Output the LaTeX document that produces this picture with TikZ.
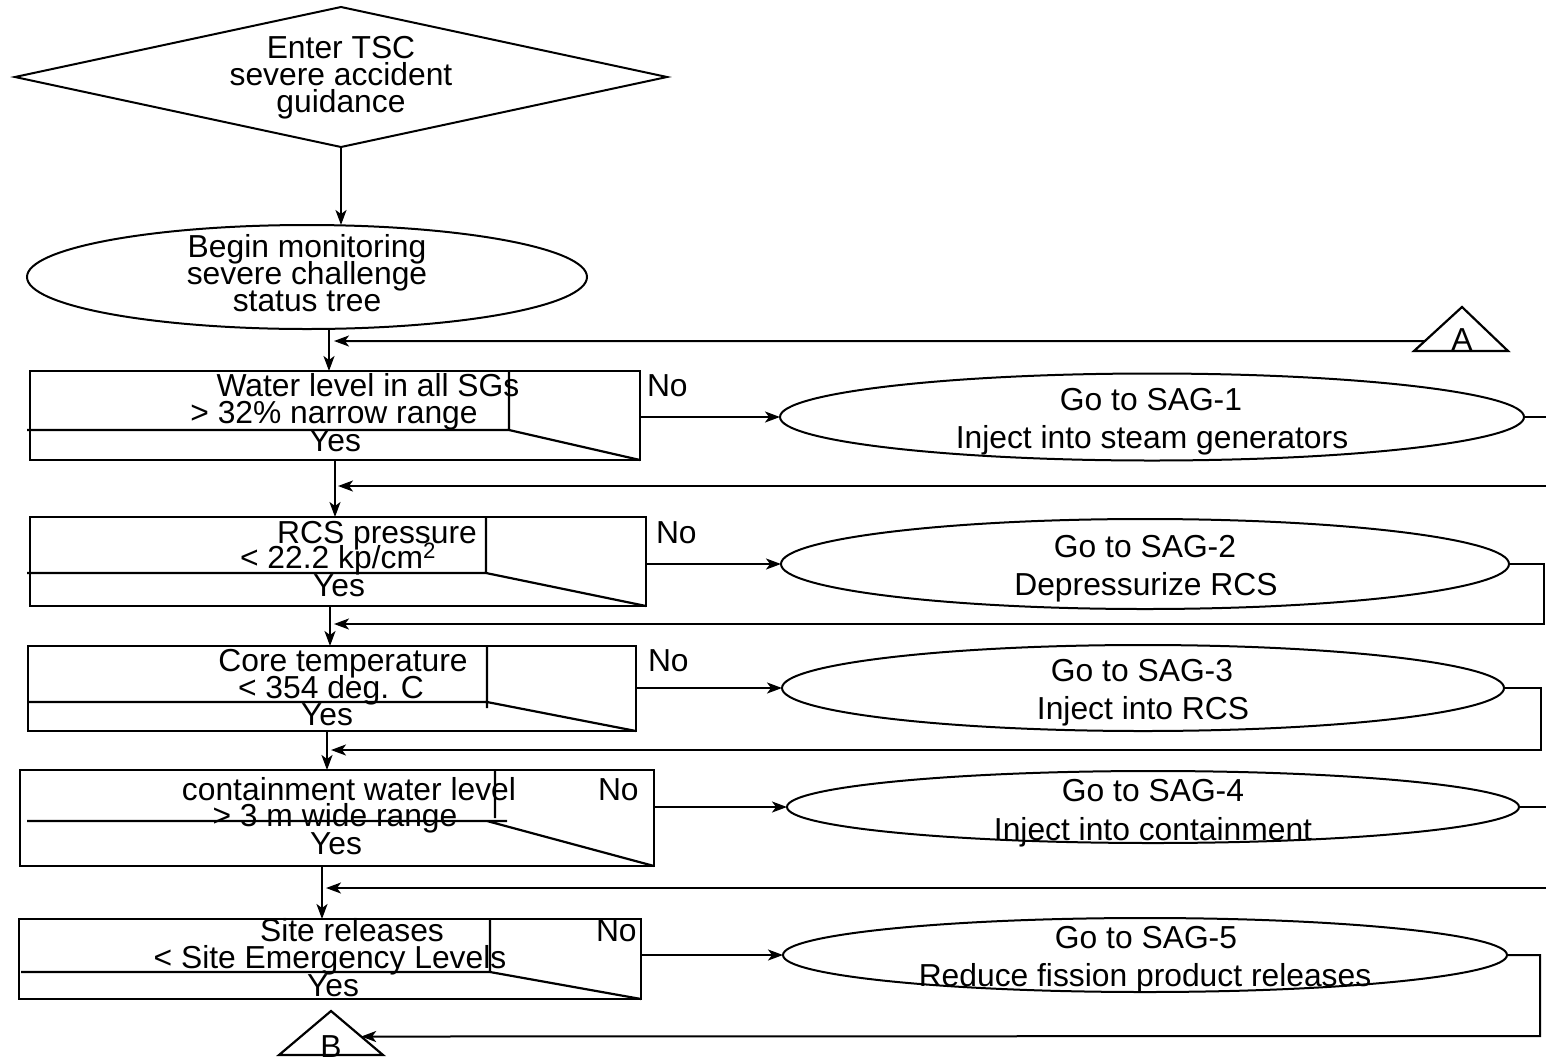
\documentclass[tikz,border=0pt]{standalone}
\usepackage{fontspec}
\setmainfont{Liberation Sans}
\usetikzlibrary{shapes.geometric,arrows.meta,calc}
% fixed line pitch even when descenders meet ascenders
\newcommand{\chartfont}{\fontsize{31.8}{27}\selectfont\lineskiplimit=-100pt\relax\lineskip=0pt\relax}
\begin{document}
\begin{tikzpicture}[x=1pt,y=-1pt,
  line width=2.2pt, line join=miter,
  every node/.style={inner sep=0pt, outer sep=0pt},
  txt/.style={font=\chartfont, align=center},
  lbl/.style={font=\chartfont, anchor=base},
  nolbl/.style={lbl, anchor=base west},
  decbox/.style={draw, rectangle, line width=2.2pt},
  oval/.style={draw, ellipse, line width=2pt},
  arr/.style={-{Stealth[length=15pt,width=11pt,inset=4pt]}, line width=2pt},
  wire/.style={line width=2.2pt}
]
\useasboundingbox (0,0) rectangle (1546,1058);
\fill[white] (0,0) rectangle (1546,1058);
\clip (0,0) rectangle (1546,1058);

% entry diamond and monitoring oval
\node[draw, diamond, minimum width=652pt, minimum height=140pt, line width=2pt] (start) at (341,77) {};
\node[txt] (startt) at (341,78) {Enter TSC\\severe accident\\guidance};
\node[oval, minimum width=560pt, minimum height=104pt] (mon) at (307,277) {};
\node[txt] (mont) at (307,273) {Begin monitoring\\severe challenge\\status tree};
\draw[arr] (start.south) -- (start.south |- mon.north);

% x positions of the main spine
\coordinate (sp1) at (329,0);
\coordinate (sp2) at (335,0);
\coordinate (sp3) at (330,0);
\coordinate (sp4) at (327,0);
\coordinate (sp5) at (322,0);

% decision 1
\node[decbox, minimum width=610pt, minimum height=89pt] (d1) at (335,415.5) {};
\draw (27,430) -- (509,430) -- (640,460) (509,371) -- (509,430);
\node[lbl] (d1a) at (368,396) {Water level in all SGs};
\node[lbl] (d1b) at (334,423) {> 32\% narrow range};
\node[lbl] (d1y) at (335,451) {Yes};
\node[nolbl] (d1n) at (647,396) {No};

% decision 2
\node[decbox, minimum width=616pt, minimum height=89pt] (d2) at (338,561.5) {};
\draw (27,573) -- (486,573) -- (646,606) (486,517) -- (486,573);
\node[lbl] (d2a) at (377,543) {RCS pressure};
\node[lbl] (d2b) at (338,568) {< 22.2 kp/cm\textsuperscript{2}};
\node[lbl] (d2y) at (339,596) {Yes};
\node[nolbl] (d2n) at (656,543) {No};

% decision 3
\node[decbox, minimum width=608pt, minimum height=85pt] (d3) at (332,688.5) {};
\draw (28,702) -- (487,702) -- (636,731) (487,646) -- (487,708);
\node[lbl] (d3a) at (343,671) {Core temperature};
\node[lbl] (d3b) at (331,698) {< 354 deg. C};
\node[lbl] (d3y) at (327,725) {Yes};
\node[nolbl] (d3n) at (648,671) {No};

% decision 4
\node[decbox, minimum width=634pt, minimum height=96pt] (d4) at (337,818) {};
\draw (27,821) -- (507,821) (487,821) -- (654,866) (495,770) -- (495,818);
\node[lbl] (d4a) at (349,800) {containment water level};
\node[lbl] (d4b) at (335,826) {> 3 m wide range};
\node[lbl] (d4y) at (336,854) {Yes};
\node[nolbl] (d4n) at (598,800) {No};

% decision 5
\node[decbox, minimum width=622pt, minimum height=80pt] (d5) at (330,959) {};
\draw (21,972) -- (490,972) -- (641,999) (490,919) -- (490,972);
\node[lbl] (d5a) at (352,941) {Site releases};
\node[lbl] (d5b) at (330,968) {< Site Emergency Levels};
\node[lbl] (d5y) at (333,996) {Yes};
\node[nolbl] (d5n) at (596,941) {No};

% guideline ovals
\node[oval, minimum width=744pt, minimum height=87pt] (g1) at (1152,417) {};
\node[lbl] (g1a) at (1151,410) {Go to SAG-1};
\node[lbl] (g1b) at (1152,448) {Inject into steam generators};
\node[oval, minimum width=728pt, minimum height=90pt] (g2) at (1145,564) {};
\node[lbl] (g2a) at (1145,557) {Go to SAG-2};
\node[lbl] (g2b) at (1146,595) {Depressurize RCS};
\node[oval, minimum width=722pt, minimum height=86pt] (g3) at (1143,688) {};
\node[lbl] (g3a) at (1142,681) {Go to SAG-3};
\node[lbl] (g3b) at (1143,719) {Inject into RCS};
\node[oval, minimum width=732pt, minimum height=72pt] (g4) at (1153,807) {};
\node[lbl] (g4a) at (1153,801) {Go to SAG-4};
\node[lbl] (g4b) at (1153,840) {Inject into containment};
\node[oval, minimum width=724pt, minimum height=74pt] (g5) at (1145,955) {};
\node[lbl] (g5a) at (1146,948) {Go to SAG-5};
\node[lbl] (g5b) at (1145,986) {Reduce fission product releases};

% connector triangles
\coordinate (At) at (1462,307);
\coordinate (Al) at (1414,351);
\coordinate (Ar) at (1508,351);
\draw (At) -- (Al) -- (Ar) -- cycle;
\node[lbl] (Alab) at (1462,350) {A};
\coordinate (Ain) at ($(At)!0.773!(Al)$);

\coordinate (Bt) at (331,1011);
\coordinate (Bl) at (279,1055);
\coordinate (Br) at (383,1055);
\draw (Bt) -- (Bl) -- (Br) -- cycle;
\node[lbl] (Blab) at (331,1057) {B};
\coordinate (Bin) at ($(Bt)!0.58!(Br)$);

% spine
\draw[arr] (mon.south -| sp1) -- (d1.north -| sp1);
\draw[arr] (d1.south -| sp2) -- (d2.north -| sp2);
\draw[arr] (d2.south -| sp3) -- (d3.north -| sp3);
\draw[arr] (d3.south -| sp4) -- (d4.north -| sp4);
\draw[arr] (d4.south -| sp5) -- (d5.north -| sp5);

% "No" branches
\draw[arr] (d1.east |- g1.west) -- (g1.west);
\draw[arr] (d2.east |- g2.west) -- (g2.west);
\draw[arr] (d3.east |- g3.west) -- (g3.west);
\draw[arr] (d4.east |- g4.west) -- (g4.west);
\draw[arr] (d5.east |- g5.west) -- (g5.west);

% returns to the spine
\coordinate (j1) at (334,341);
\coordinate (j2) at (338,486);
\coordinate (j3) at (334,624);
\coordinate (j4) at (331,750);
\coordinate (j5) at (326,888);
\coordinate (k1) at (1552,486);
\coordinate (k2) at (1544,624);
\coordinate (k3) at (1541,750);
\coordinate (k4) at (1552,888);
\coordinate (k5) at (1540,1036);
\draw[arr] (Ain) -- (j1);
\draw[arr] (g1.east) -| (k1) -- (j2);
\draw[arr] (g2.east) -| (k2) -- (j3);
\draw[arr] (g3.east) -| (k3) -- (j4);
\draw[arr] (g4.east) -| (k4) -- (j5);
\draw[arr] (g5.east) -| (k5) -- (Bin);
\end{tikzpicture}
\end{document}
